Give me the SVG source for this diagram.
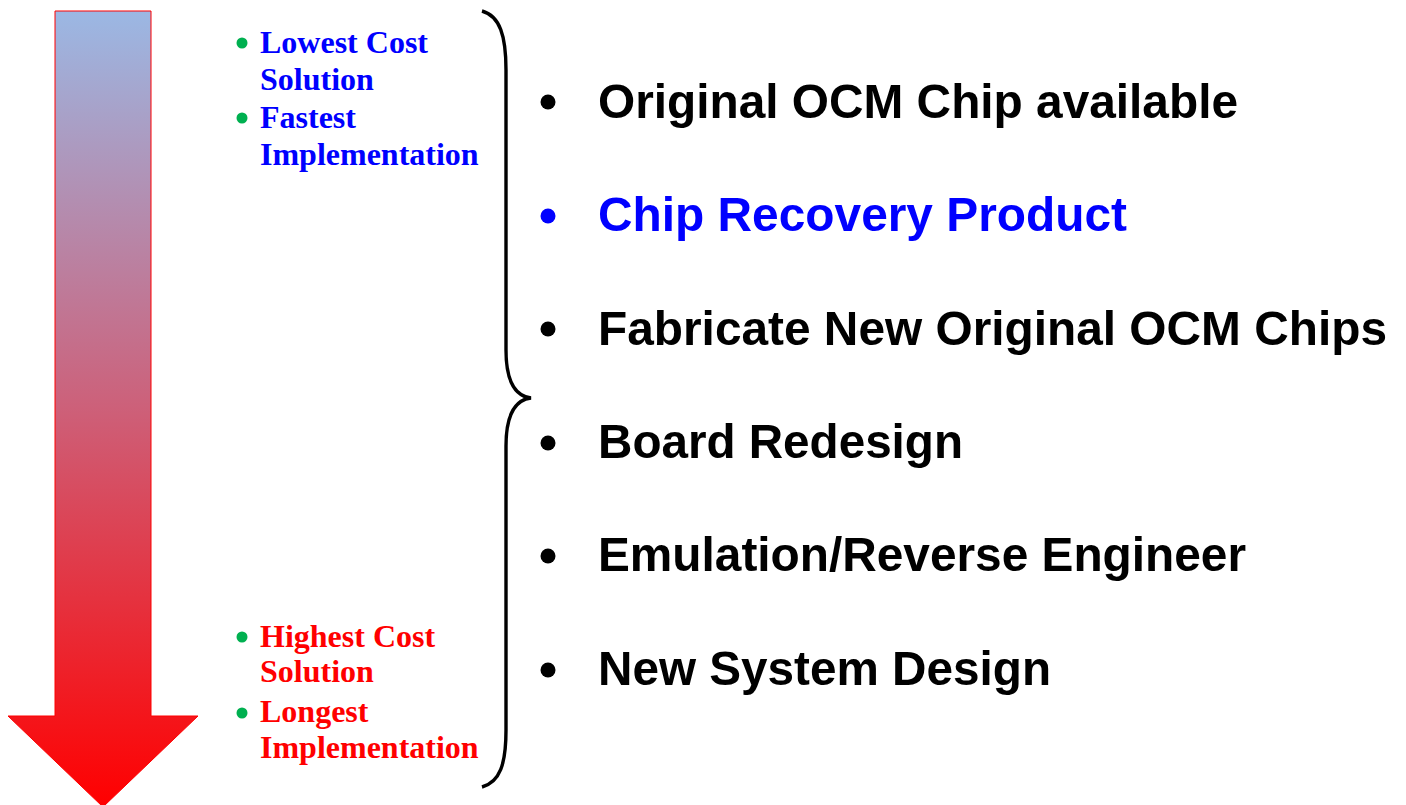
<svg xmlns="http://www.w3.org/2000/svg" width="1406" height="805" viewBox="0 0 1406 805">
<defs>
<linearGradient id="arrowGrad" x1="0" y1="11" x2="0" y2="805" gradientUnits="userSpaceOnUse">
<stop offset="0" stop-color="#9bb8e4"/>
<stop offset="0.5" stop-color="#cd6079"/>
<stop offset="1" stop-color="#ff0000"/>
</linearGradient>
</defs>
<style>
.big{font-family:"Liberation Sans",Arial,sans-serif;font-weight:bold;font-size:49px;}
.small{font-family:"Liberation Serif","Times New Roman",serif;font-weight:bold;font-size:32px;}
.blk{fill:#000000;}
.blu{fill:#0000ff;}
.red{fill:#ff0000;}
.gdot{fill:#00b050;}
</style>
<rect width="1406" height="805" fill="#ffffff"/>
<g id="arrow">
<path d="M55,11 H151 V716 H198 L103,807 L8,716 H55 Z" fill="url(#arrowGrad)" stroke="#ff0000" stroke-width="1"/>
</g>
<g id="connectors">
<path d="M482,11 C500,16 506,36 506,70 V350 C506,380 514,396 531,398 C514,400 506,416 506,446 V730 C506,764 500,782 482,787" fill="none" stroke="#000000" stroke-width="3.4"/>
</g>
<g id="top-notes">
<circle class="gdot" cx="242" cy="43" r="5.5"/>
<text class="small blu" x="260" y="53">Lowest Cost</text>
<text class="small blu" x="260" y="90">Solution</text>
<circle class="gdot" cx="242" cy="118" r="5.5"/>
<text class="small blu" x="260" y="128">Fastest</text>
<text class="small blu" x="260" y="165">Implementation</text>
</g>
<g id="bottom-notes">
<circle class="gdot" cx="242" cy="637" r="5.5"/>
<text class="small red" x="260" y="647">Highest Cost</text>
<text class="small red" x="260" y="682">Solution</text>
<circle class="gdot" cx="242" cy="713" r="5.5"/>
<text class="small red" x="260" y="722">Longest</text>
<text class="small red" x="260" y="758">Implementation</text>
</g>
<g id="item1">
<circle class="blk" cx="548" cy="102" r="7.5"/>
<text class="big blk" x="598" y="118" textLength="640" lengthAdjust="spacingAndGlyphs">Original OCM Chip available</text>
</g>
<g id="item2">
<circle class="blu" cx="548" cy="216" r="7.5"/>
<text class="big blu" x="598" y="231" textLength="529" lengthAdjust="spacingAndGlyphs">Chip Recovery Product</text>
</g>
<g id="item3">
<circle class="blk" cx="548" cy="329" r="7.5"/>
<text class="big blk" x="598" y="345" textLength="789" lengthAdjust="spacingAndGlyphs">Fabricate New Original OCM Chips</text>
</g>
<g id="item4">
<circle class="blk" cx="548" cy="443" r="7.5"/>
<text class="big blk" x="598" y="458" textLength="365" lengthAdjust="spacingAndGlyphs">Board Redesign</text>
</g>
<g id="item5">
<circle class="blk" cx="548" cy="556" r="7.5"/>
<text class="big blk" x="598" y="571" textLength="648" lengthAdjust="spacingAndGlyphs">Emulation/Reverse Engineer</text>
</g>
<g id="item6">
<circle class="blk" cx="548" cy="670" r="7.5"/>
<text class="big blk" x="598" y="685" textLength="453" lengthAdjust="spacingAndGlyphs">New System Design</text>
</g>
</svg>
